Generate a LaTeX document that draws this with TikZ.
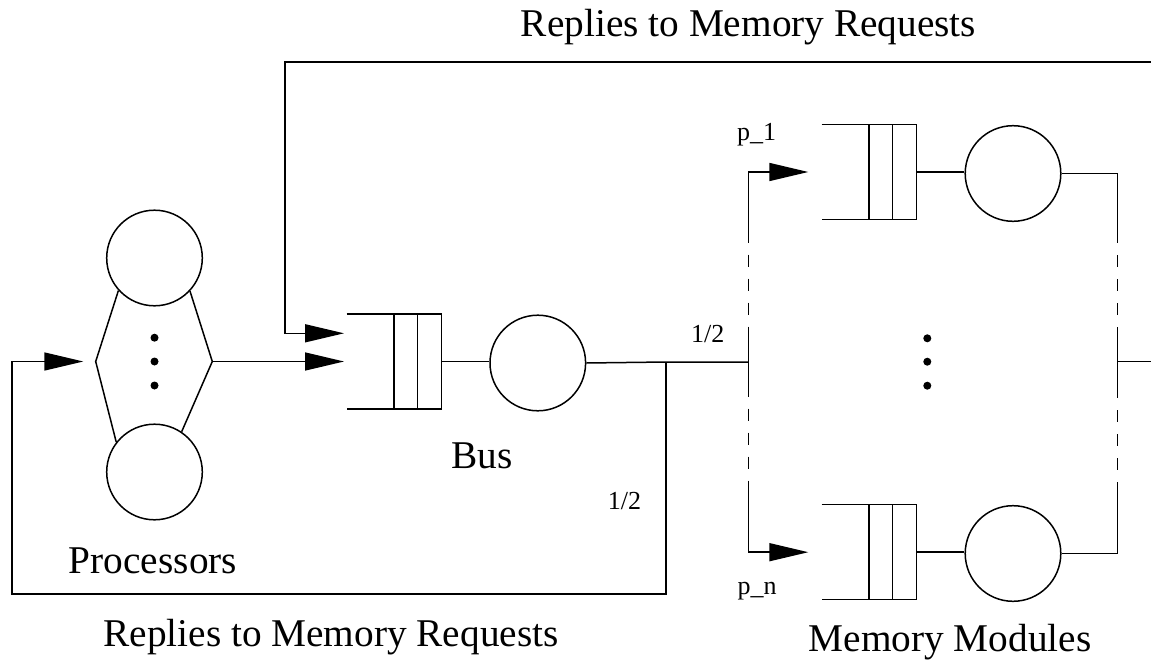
\documentclass[tikz,border=0pt]{standalone}
\usepackage{fontspec}
\setmainfont{Liberation Serif}
\usetikzlibrary{arrows.meta,calc}
\begin{document}
\begin{tikzpicture}[x=1pt,y=-1pt, line width=1.5pt,
  srv/.style={draw, circle, minimum size=95.6pt, inner sep=0pt},
  big/.style={font=\fontsize{39.3}{47}\selectfont, inner sep=0pt, anchor=base},
  small/.style={font=\fontsize{26}{31}\selectfont, inner sep=0pt, anchor=base},
  arr/.style={-{Triangle[length=39pt,width=18pt]}},
  dotm/.style={fill, circle, inner sep=0pt, minimum size=8pt},
  dsh/.style={dash pattern=on 12pt off 12pt, dash phase=12pt},
  queue/.pic={
    \coordinate (-in) at (0,0);
    \coordinate (-top) at (0,-28.2);
    \coordinate (-out) at (95,0);
    \draw (0,-47.5) -- (95,-47.5) -- (95,47.5) -- (0,47.5);
    \draw (47.3,-47.5) -- (47.3,47.5);
    \draw (71,-47.5) -- (71,47.5);
  }]
\useasboundingbox (0,0) rectangle (1151,666);

% Processors
\node[srv] (p1) at (154.5,258) {};
\node[srv] (pn) at (154.5,472) {};
\coordinate (hl) at (95.7,361.5);
\coordinate (hr) at (212.3,361.5);
\draw (p1.222) -- (hl) -- (pn.142);
\draw (p1.317) -- (hr) -- (pn.56);
\node[dotm] (pd1) at (154.5,337.7) {};
\node[dotm] (pd2) at (154.5,361.5) {};
\node[dotm] (pd3) at (154.5,385.5) {};

% Bus
\pic (bq) at (346.7,361.5) {queue};
\node[srv] (bs) at (537.8,363) {};
\draw (bq-out) -- (bq-out -| bs.west);
\draw[arr, shorten >=2.7pt] (hr) -- (bq-in);

\coordinate (split) at (666,362);
\coordinate (fork) at (748.5,362);
\draw (bs.east) -- (split) -- (fork);

% feedback to processors
\coordinate (fbc) at (12,594);
\draw[arr, shorten >=12.4pt] (split) |- (fbc) |- (hl);

% replies loop on top
\coordinate (rtop) at (1151,62);
\coordinate (tl) at (285,62);
\draw[arr, shorten >=2.7pt] (rtop) -- (tl) |- (bq-top);

% Memory modules
\pic (mq1) at (821.7,172) {queue};
\pic (mqn) at (821.7,552.2) {queue};
\node[srv] (m1) at (1013,173.5) {};
\node[srv] (mn) at (1013,553.5) {};
\draw (mq1-out) -- (mq1-out -| m1.west);
\draw (mqn-out) -- (mqn-out -| mn.west);
\node[dotm] (md1) at (927.3,338.3) {};
\node[dotm] (md2) at (927.3,361.7) {};
\node[dotm] (md3) at (927.3,385.7) {};

% left fork line
\coordinate (la) at (748.5,242.7);
\coordinate (lb) at (748.5,326.7);
\coordinate (lc) at (748.5,396.7);
\coordinate (ld) at (748.5,481.7);
\draw (fork) -- (lb);
\draw (fork) -- (lc);
\draw[dsh] (la) -- (lb);
\draw[dsh] (lc) -- (ld);
\draw[arr, shorten >=13.4pt] (la) |- (mq1-in);
\draw[arr, shorten >=13.4pt] (ld) |- (mqn-in);

% right join line
\coordinate (ra) at (1117.3,243);
\coordinate (rb) at (1117.3,327);
\coordinate (rc) at (1117.3,398);
\coordinate (rd) at (1117.3,481.7);
\coordinate (rm) at (1117.3,361.5);
\coordinate (rout) at (1151,361.5);
\draw (m1.east) -| (ra);
\draw (mn.east) -| (rd);
\draw[dsh] (ra) -- (rb);
\draw[dsh] (rc) -- (rd);
\draw (rb) -- (rc);
\draw (rm) -- (rout);

% texts
\node[big] (t1) at (748.5,37) {Replies to Memory Requests};
\node[big] (t2) at (331,646) {Replies to Memory Requests};
\node[big] (t3) at (950,651) {Memory Modules};
\node[big] (t4) at (153,573) {Processors};
\node[big] (t5) at (482,468) {Bus};
\node[small] (h1) at (707.8,342.7) {1/2};
\node[small] (h2) at (624.5,509) {1/2};
\node[small] (pl1) at (756.7,141) {p\_1};
\node[small] (pln) at (757,594) {p\_n};
\end{tikzpicture}
\end{document}
